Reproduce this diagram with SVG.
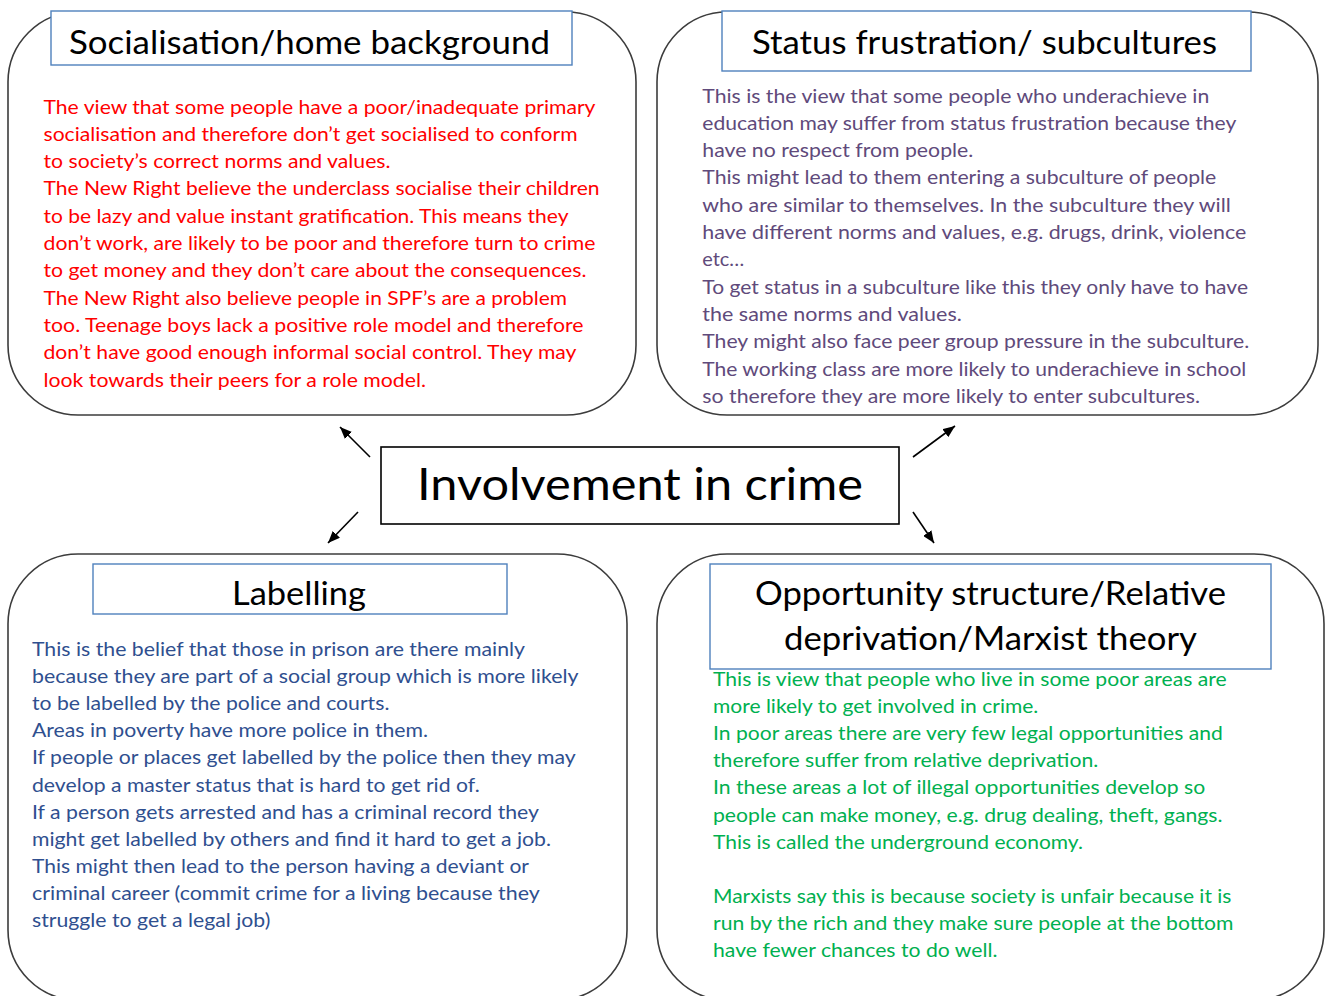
<svg xmlns="http://www.w3.org/2000/svg" width="1328" height="996" viewBox="0 0 1328 996">
<style>
text{font-family:Lato,"Liberation Sans",sans-serif;}
.card{fill:#ffffff;stroke:#3c3c3c;stroke-width:1.6;}
.tbox{fill:#ffffff;stroke:#4f81bd;stroke-width:1.4;}
.cbox{fill:#ffffff;stroke:#000000;stroke-width:1.6;}
.title{font-size:32px;fill:#000000;}
.body{font-size:20px;}
.red{fill:#ff0000;}
.purple{fill:#604a7b;}
.blue{fill:#2f4f8f;}
.green{fill:#00b050;}
.arrow{stroke:#000000;stroke-width:1.6;fill:none;marker-end:url(#ah);}
</style>
<defs>
<marker id="ah" viewBox="0 0 12 10" refX="12" refY="5" markerWidth="12" markerHeight="10" markerUnits="userSpaceOnUse" orient="auto">
<path d="M0,0 L12,5 L0,10 Z" fill="#000000"/>
</marker>
</defs>
<rect x="0" y="0" width="1328" height="996" fill="#ffffff"/>

<g id="node-socialisation">
<rect class="card" x="8" y="12" width="628" height="403" rx="70" ry="70"/>
<rect class="tbox" x="51" y="11" width="521" height="54"/>
<text class="title" x="69" y="54" textLength="481" lengthAdjust="spacingAndGlyphs">Socialisation/home background</text>
<g class="body red">
<text x="43.5" y="113.5" textLength="552" lengthAdjust="spacingAndGlyphs">The view that some people have a poor/inadequate primary</text>
<text x="43.5" y="140.8" textLength="534" lengthAdjust="spacingAndGlyphs">socialisation and therefore don’t get socialised to conform</text>
<text x="43.5" y="168.1" textLength="347" lengthAdjust="spacingAndGlyphs">to society’s correct norms and values.</text>
<text x="43.5" y="195.4" textLength="556" lengthAdjust="spacingAndGlyphs">The New Right believe the underclass socialise their children</text>
<text x="43.5" y="222.7" textLength="525" lengthAdjust="spacingAndGlyphs">to be lazy and value instant gratification. This means they</text>
<text x="43.5" y="250" textLength="552" lengthAdjust="spacingAndGlyphs">don’t work, are likely to be poor and therefore turn to crime</text>
<text x="43.5" y="277.3" textLength="543" lengthAdjust="spacingAndGlyphs">to get money and they don’t care about the consequences.</text>
<text x="43.5" y="304.6" textLength="523.5" lengthAdjust="spacingAndGlyphs">The New Right also believe people in SPF’s are a problem</text>
<text x="43.5" y="331.9" textLength="540" lengthAdjust="spacingAndGlyphs">too. Teenage boys lack a positive role model and therefore</text>
<text x="43.5" y="359.2" textLength="533" lengthAdjust="spacingAndGlyphs">don’t have good enough informal social control. They may</text>
<text x="43.5" y="386.5" textLength="382.5" lengthAdjust="spacingAndGlyphs">look towards their peers for a role model.</text>
</g>
</g>

<g id="node-status">
<rect class="card" x="657" y="12" width="661" height="403" rx="70" ry="70"/>
<rect class="tbox" x="722" y="11" width="529" height="60"/>
<text class="title" x="752" y="54" textLength="465" lengthAdjust="spacingAndGlyphs">Status frustration/ subcultures</text>
<g class="body purple">
<text x="702.3" y="102.5" textLength="507" lengthAdjust="spacingAndGlyphs">This is the view that some people who underachieve in</text>
<text x="702.3" y="129.8" textLength="534" lengthAdjust="spacingAndGlyphs">education may suffer from status frustration because they</text>
<text x="702.3" y="157.1" textLength="271" lengthAdjust="spacingAndGlyphs">have no respect from people.</text>
<text x="702.3" y="184.4" textLength="514" lengthAdjust="spacingAndGlyphs">This might lead to them entering a subculture of people</text>
<text x="702.3" y="211.7" textLength="528.5" lengthAdjust="spacingAndGlyphs">who are similar to themselves. In the subculture they will</text>
<text x="702.3" y="239" textLength="544" lengthAdjust="spacingAndGlyphs">have different norms and values, e.g. drugs, drink, violence</text>
<text x="702.3" y="266.3" textLength="42" lengthAdjust="spacingAndGlyphs">etc…</text>
<text x="702.3" y="293.6" textLength="545.7" lengthAdjust="spacingAndGlyphs">To get status in a subculture like this they only have to have</text>
<text x="702.3" y="320.9" textLength="259.5" lengthAdjust="spacingAndGlyphs">the same norms and values.</text>
<text x="702.3" y="348.2" textLength="547" lengthAdjust="spacingAndGlyphs">They might also face peer group pressure in the subculture.</text>
<text x="702.3" y="375.5" textLength="544" lengthAdjust="spacingAndGlyphs">The working class are more likely to underachieve in school</text>
<text x="702.3" y="402.8" textLength="497.7" lengthAdjust="spacingAndGlyphs">so therefore they are more likely to enter subcultures.</text>
</g>
</g>

<g id="node-central">
<rect class="cbox" x="381" y="447" width="518" height="77"/>
<text x="417" y="500" font-size="45" fill="#000000" textLength="446" lengthAdjust="spacingAndGlyphs">Involvement in crime</text>
</g>

<g id="node-labelling">
<rect class="card" x="8" y="554" width="619" height="446" rx="70" ry="70"/>
<rect class="tbox" x="93" y="564" width="414" height="50"/>
<text class="title" x="232" y="605" textLength="134" lengthAdjust="spacingAndGlyphs">Labelling</text>
<g class="body blue">
<text x="32" y="656" textLength="493" lengthAdjust="spacingAndGlyphs">This is the belief that those in prison are there mainly</text>
<text x="32" y="683.1" textLength="546.5" lengthAdjust="spacingAndGlyphs">because they are part of a social group which is more likely</text>
<text x="32" y="710.2" textLength="357.4" lengthAdjust="spacingAndGlyphs">to be labelled by the police and courts.</text>
<text x="32" y="737.3" textLength="396" lengthAdjust="spacingAndGlyphs">Areas in poverty have more police in them.</text>
<text x="32" y="764.4" textLength="543.6" lengthAdjust="spacingAndGlyphs">If people or places get labelled by the police then they may</text>
<text x="32" y="791.5" textLength="447.7" lengthAdjust="spacingAndGlyphs">develop a master status that is hard to get rid of.</text>
<text x="32" y="818.6" textLength="507" lengthAdjust="spacingAndGlyphs">If a person gets arrested and has a criminal record they</text>
<text x="32" y="845.7" textLength="519" lengthAdjust="spacingAndGlyphs">might get labelled by others and find it hard to get a job.</text>
<text x="32" y="872.8" textLength="497" lengthAdjust="spacingAndGlyphs">This might then lead to the person having a deviant or</text>
<text x="32" y="899.9" textLength="507.7" lengthAdjust="spacingAndGlyphs">criminal career (commit crime for a living because they</text>
<text x="32" y="927" textLength="238.3" lengthAdjust="spacingAndGlyphs">struggle to get a legal job)</text>
</g>
</g>

<g id="node-opportunity">
<rect class="card" x="657" y="554" width="667" height="446" rx="70" ry="70"/>
<rect class="tbox" x="710" y="564" width="561" height="105"/>
<text class="title" x="755" y="605" textLength="471" lengthAdjust="spacingAndGlyphs">Opportunity structure/Relative</text>
<text class="title" x="784" y="650" textLength="413" lengthAdjust="spacingAndGlyphs">deprivation/Marxist theory</text>
<g class="body green">
<text x="713" y="686" textLength="513.7" lengthAdjust="spacingAndGlyphs">This is view that people who live in some poor areas are</text>
<text x="713" y="713.1" textLength="325.3" lengthAdjust="spacingAndGlyphs">more likely to get involved in crime.</text>
<text x="713" y="740.2" textLength="509.8" lengthAdjust="spacingAndGlyphs">In poor areas there are very few legal opportunities and</text>
<text x="713" y="767.3" textLength="385.3" lengthAdjust="spacingAndGlyphs">therefore suffer from relative deprivation.</text>
<text x="713" y="794.4" textLength="492.2" lengthAdjust="spacingAndGlyphs">In these areas a lot of illegal opportunities develop so</text>
<text x="713" y="821.5" textLength="509.4" lengthAdjust="spacingAndGlyphs">people can make money, e.g. drug dealing, theft, gangs.</text>
<text x="713" y="848.6" textLength="369.9" lengthAdjust="spacingAndGlyphs">This is called the underground economy.</text>
<text x="713" y="902.8" textLength="518.4" lengthAdjust="spacingAndGlyphs">Marxists say this is because society is unfair because it is</text>
<text x="713" y="929.9" textLength="520.5" lengthAdjust="spacingAndGlyphs">run by the rich and they make sure people at the bottom</text>
<text x="713" y="957" textLength="284.5" lengthAdjust="spacingAndGlyphs">have fewer chances to do well.</text>
</g>
</g>

<g id="connectors">
<line class="arrow" x1="370" y1="457" x2="340" y2="427"/>
<line class="arrow" x1="913" y1="457" x2="955" y2="426"/>
<line class="arrow" x1="358" y1="512" x2="328" y2="543"/>
<line class="arrow" x1="913" y1="512" x2="934" y2="543"/>
</g>
</svg>
